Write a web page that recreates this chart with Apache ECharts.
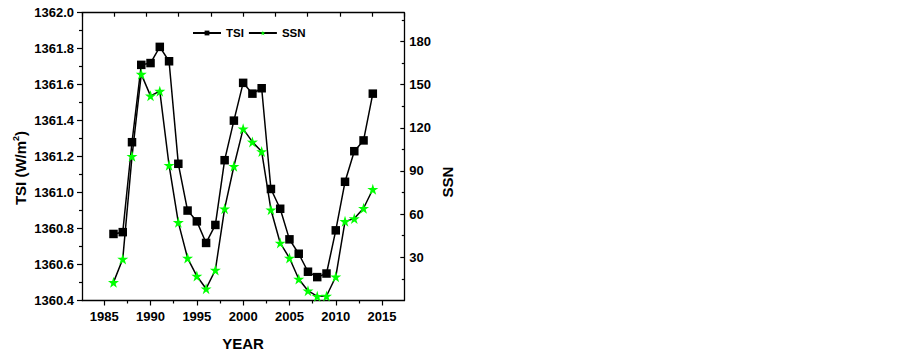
<!DOCTYPE html>
<html>
<head>
<meta charset="utf-8">
<script src="https://cdn.jsdelivr.net/npm/echarts@6/dist/echarts.min.js"></script>
<style>
html,body{margin:0;padding:0;background:#fff;}
#c{width:903px;height:354px;}
</style>
</head>
<body>
<div id="c"></div>
<script>
const years = [1986,1987,1988,1989,1990,1991,1992,1993,1994,1995,1996,1997,1998,1999,2000,2001,2002,2003,2004,2005,2006,2007,2008,2009,2010,2011,2012,2013,2014];
const tsi = [1360.77,1360.78,1361.28,1361.71,1361.72,1361.81,1361.73,1361.16,1360.90,1360.84,1360.72,1360.82,1361.18,1361.40,1361.61,1361.55,1361.58,1361.02,1360.91,1360.74,1360.66,1360.56,1360.53,1360.55,1360.79,1361.06,1361.23,1361.29,1361.55];
const ssn = [12.6,28.8,100.2,157.3,142.2,145.5,94.0,54.3,29.5,17.0,8.2,21.2,63.8,93.3,119.3,110.2,103.5,63.1,40.0,29.5,14.9,6.8,2.9,3.1,16.5,55.0,56.9,64.1,77.3];
const xTicks = [1985,1990,1995,2000,2005,2010,2015];
const xMinorTicks = [1987.5,1992.5,1997.5,2002.5,2007.5,2012.5];
const ssnTicks = [30,60,90,120,150,180];
const ssnMinorTicks = [15,45,75,105,135,165,195];

const FONT = 'Liberation Sans';
const STAR = 'path://M50 0 L61.17 34.63 L97.55 34.55 L68.07 55.87 L79.39 90.45 L50 69 L20.61 90.45 L31.93 55.87 L2.45 34.55 L38.83 34.63 Z';
const lbl = {fontFamily: FONT, fontWeight: 'bold', fontSize: 13, color: '#000'};
const axLine = {show: true, lineStyle: {color: '#000', width: 1.3}};

const chart = echarts.init(document.getElementById('c'), null, {renderer: 'svg'});
chart.setOption({
  animation: false,
  backgroundColor: '#fff',
  grid: {left: 82, right: 498.7, top: 12.7, bottom: 53.5, containLabel: false},
  legend: {
    left: 187, top: 22, itemWidth: 28, itemHeight: 6, itemGap: 4,
    textStyle: {fontFamily: FONT, fontWeight: 'bold', fontSize: 11.5, color: '#000'},
    data: ['TSI', 'SSN']
  },
  xAxis: [
    {
      type: 'value', position: 'bottom', min: 1982.6, max: 2017.4,
      axisLine: axLine,
      axisTick: {show: true, customValues: xTicks, length: 5, lineStyle: {color: '#000', width: 1.2}},
      axisLabel: Object.assign({customValues: xTicks, margin: 9, formatter: v => String(v)}, lbl),
      splitLine: {show: false}
    },
    {
      type: 'value', position: 'bottom', min: 1982.6, max: 2017.4,
      axisLine: {show: false},
      axisTick: {show: true, customValues: xMinorTicks, length: 3, lineStyle: {color: '#000', width: 1.2}},
      axisLabel: {show: false},
      splitLine: {show: false}
    },
    {
      type: 'value', position: 'top', min: 0, max: 10, interval: 1,
      axisLine: axLine,
      axisTick: {show: true, inside: true, length: 4, lineStyle: {color: '#000', width: 1.2}},
      axisLabel: {show: false},
      splitLine: {show: false}
    }
  ],
  yAxis: [
    {
      type: 'value', position: 'left', min: 1360.4, max: 1362.0, interval: 0.2,
      axisLine: axLine,
      axisTick: {show: true, length: 5, lineStyle: {color: '#000', width: 1.2}},
      minorTick: {show: true, splitNumber: 2, length: 3, lineStyle: {color: '#000', width: 1.2}},
      axisLabel: Object.assign({margin: 8, formatter: v => v.toFixed(1)}, lbl),
      splitLine: {show: false}
    },
    {
      type: 'value', position: 'right', min: 0, max: 200,
      axisLine: axLine,
      axisTick: {show: true, inside: true, customValues: ssnTicks, length: 4, lineStyle: {color: '#000', width: 1.2}},
      axisLabel: Object.assign({customValues: ssnTicks, margin: 5}, lbl),
      splitLine: {show: false}
    },
    {
      type: 'value', position: 'right', min: 0, max: 200,
      axisLine: {show: false},
      axisTick: {show: true, inside: true, customValues: ssnMinorTicks, length: 2.5, lineStyle: {color: '#000', width: 1.2}},
      axisLabel: {show: false},
      splitLine: {show: false}
    }
  ],
  graphic: [
    {
      type: 'text', x: 20, y: 168, rotation: Math.PI / 2,
      style: {
        text: '{a|TSI (W/m}{s|2}{a|)}',
        align: 'center', verticalAlign: 'middle',
        rich: {
          a: {fontFamily: FONT, fontWeight: 'bold', fontSize: 15, fill: '#000'},
          s: {fontFamily: FONT, fontWeight: 'bold', fontSize: 9, fill: '#000', verticalAlign: 'top', padding: [0,0,8,0]}
        }
      }
    },
    {
      type: 'text', x: 447, y: 182, rotation: Math.PI / 2,
      style: {text: 'SSN', align: 'center', verticalAlign: 'middle', fontFamily: FONT, fontWeight: 'bold', fontSize: 15, fill: '#000'}
    },
    {
      type: 'text', x: 243, y: 343,
      style: {text: 'YEAR', align: 'center', verticalAlign: 'middle', fontFamily: FONT, fontWeight: 'bold', fontSize: 15, fill: '#000'}
    }
  ],
  series: [
    {
      name: 'TSI', type: 'line', xAxisIndex: 0, yAxisIndex: 0,
      data: years.map((y, i) => [y, tsi[i]]),
      symbol: 'rect', symbolSize: 8.5,
      lineStyle: {color: '#000', width: 1.5},
      itemStyle: {color: '#000'}
    },
    {
      name: 'SSN', type: 'line', xAxisIndex: 0, yAxisIndex: 1,
      data: years.map((y, i) => [y, ssn[i]]),
      symbol: STAR, symbolSize: 11,
      lineStyle: {color: '#000', width: 1.5},
      itemStyle: {color: '#00ff00'}
    }
  ]
});
</script>
</body>
</html>
